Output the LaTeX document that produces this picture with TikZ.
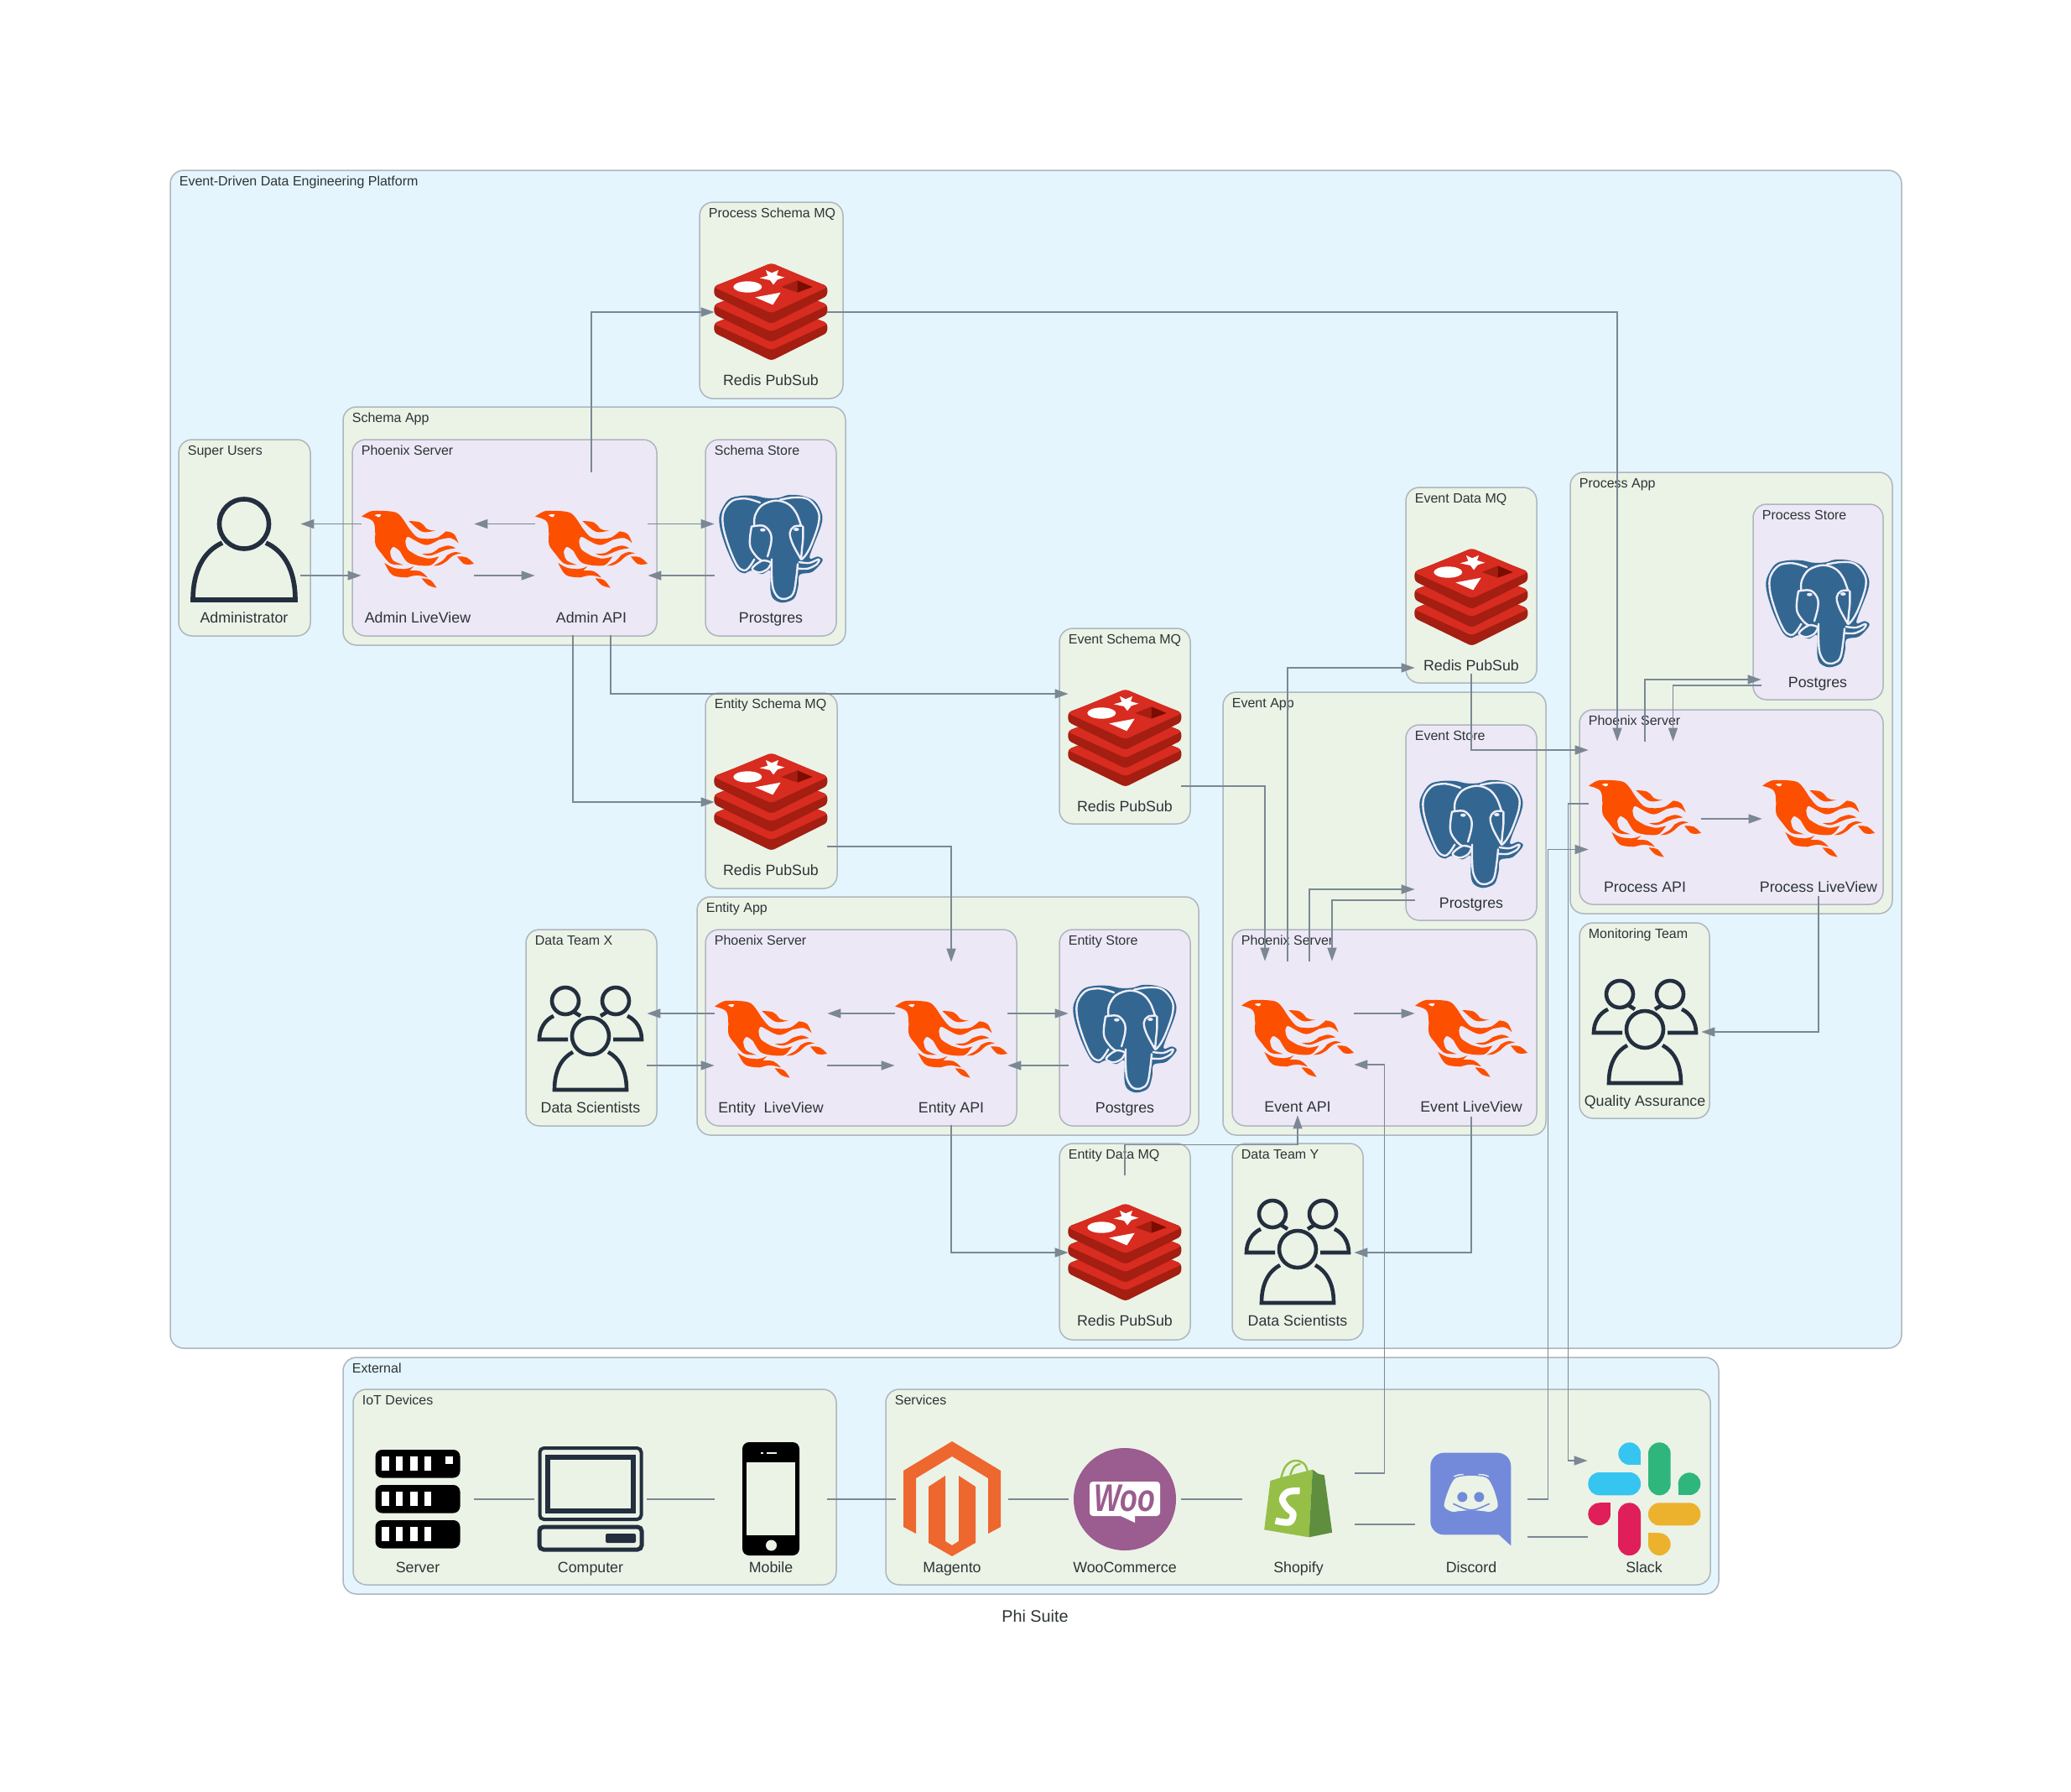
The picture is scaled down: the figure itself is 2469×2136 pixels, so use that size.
\documentclass[tikz,border=0pt]{standalone}
\usepackage{fontspec}
\setmainfont{Liberation Sans}
\usetikzlibrary{arrows.meta}
\definecolor{cblue}{HTML}{E4F5FD}
\definecolor{cgreen}{HTML}{EBF3E7}
\definecolor{cpurple}{HTML}{ECE8F6}
\definecolor{cborder}{HTML}{AEB6BE}
\definecolor{edgec}{HTML}{7B8894}
\definecolor{txt}{HTML}{2D3436}
\definecolor{flamec}{HTML}{FD4F00}
\definecolor{pgblue}{HTML}{336791}
\definecolor{pgwhite}{HTML}{EFEDF7}
\definecolor{redisA}{HTML}{D82C20}
\definecolor{redisB}{HTML}{A41E11}
\definecolor{redisC}{HTML}{7A0C00}
\definecolor{navy}{HTML}{232F3E}
\definecolor{magc}{HTML}{EE672F}
\definecolor{wooc}{HTML}{9B5C8F}
\definecolor{shopA}{HTML}{95BF47}
\definecolor{shopB}{HTML}{5E8E3E}
\definecolor{discc}{HTML}{738ADB}
\definecolor{slB}{HTML}{36C5F0}
\definecolor{slG}{HTML}{2EB67D}
\definecolor{slR}{HTML}{E01E5A}
\definecolor{slY}{HTML}{ECB22E}
\tikzset{
  clubox/.style={draw=cborder,line width=0.75pt,rounded corners=8pt,inner sep=0pt},
  clulab/.style={anchor=base west,inner sep=0pt,font=\fontsize{8}{9.6}\selectfont,text=txt},
  iconbox/.style={inner sep=0pt,minimum width=67pt,minimum height=97pt},
  nodelab/.style={anchor=base,inner sep=0pt,font=\fontsize{8.9}{10.6}\selectfont,text=txt},
  conn/.style={draw=edgec,line width=0.7pt},
  arr/.style={conn,-{Triangle[length=8pt,width=5.5pt,fill=edgec]}},
  iflame/.pic={\begin{scope}[scale=1/3,shift={(-219,-165)}]
    \fill[flamec] (18,47) .. controls (50,25) .. (100,27) .. controls (150,30) .. (185,85) .. controls (215,125) .. (255,127) .. controls (290,125) .. (320,100) .. controls (350,105) .. (365,142) .. controls (340,120) .. (295,130) .. controls (250,155) .. (205,130) .. controls (180,115) .. (175,135) .. controls (178,165) .. (220,188) .. controls (260,200) .. (295,190) .. controls (270,225) .. (225,222) .. controls (180,215) .. (155,170) .. controls (130,150) .. (120,172) .. controls (125,205) .. (167,220) .. controls (120,220) .. (90,180) .. controls (65,150) .. (67,110) .. controls (65,60) .. (18,47) -- cycle;
    \fill[flamec] (187,63) .. controls (230,65) .. (250,90) .. controls (265,97) .. (283,97) .. controls (235,108) .. (187,63) -- cycle;
    \fill[flamec] (233,180) .. controls (270,180) .. (295,160) .. controls (330,148) .. (355,160) .. controls (320,165) .. (290,178) .. controls (260,190) .. (233,180) -- cycle;
    \fill[flamec] (275,223) .. controls (310,205) .. (325,185) .. controls (350,172) .. (375,178) .. controls (345,185) .. (325,205) .. controls (300,222) .. (275,223) -- cycle;
    \fill[flamec] (360,190) .. controls (395,190) .. (420,216) .. controls (385,222) .. (360,190) -- cycle;
    \fill[flamec] (100,213) .. controls (130,232) .. (170,235) .. controls (190,232) .. (205,225) .. controls (195,235) .. (190,240) .. controls (230,240) .. (255,265) .. controls (215,255) .. (180,265) .. controls (125,262) .. (100,213) -- cycle;
    \fill[flamec] (233,268) .. controls (265,270) .. (287,302) .. controls (255,295) .. (233,268) -- cycle;
    \fill[white] (65,42) .. controls (78,38) .. (88,40) .. controls (82,52) .. (65,42) -- cycle;
  \end{scope}},
  ipg/.pic={\begin{scope}[scale=1/3,shift={(-207,-210)}]
    \fill[pgblue] plot[smooth cycle,tension=0.55] coordinates {(100,18) (55,32) (24,85) (26,135) (50,210) (85,280) (115,295) (135,285) (175,298) (205,285) (205,350) (215,385) (248,400) (290,385) (305,340) (310,300) (355,290) (392,250) (375,235) (345,238) (385,130) (390,85) (365,38) (320,18) (270,15) (235,25) (190,26) (150,18)};
    \begin{scope}[draw=pgwhite,line width=1.2pt,line join=round,line cap=round]
    \draw plot[smooth,tension=0.6] coordinates {(168,42) (130,30) (100,28) (65,38) (38,75) (36,125) (55,195) (85,265) (110,285) (128,275) (148,245)};
    \draw plot[smooth,tension=0.6] coordinates {(148,125) (150,90) (175,52) (225,35) (270,48) (298,80) (315,125)};
    \draw plot[smooth,tension=0.6] coordinates {(240,32) (290,24) (340,30) (375,70) (378,115) (355,185) (335,225) (318,245)};
    \draw plot[smooth,tension=0.6] coordinates {(138,128) (180,125) (205,150) (208,185) (195,235)};
    \draw plot[smooth,tension=0.6] coordinates {(138,128) (132,170) (135,205) (158,238) (172,248)};
    \draw plot[smooth,tension=0.6] coordinates {(318,125) (290,128) (275,150) (285,190) (315,245)};
    \draw plot[smooth,tension=0.6] coordinates {(322,128) (322,170) (318,210) (315,245)};
    \draw plot[smooth,tension=0.6] coordinates {(210,245) (210,300) (215,350) (235,382) (265,385) (288,365) (298,310) (303,262)};
    \draw plot[smooth,tension=0.6] coordinates {(205,255) (175,250) (140,278) (165,292) (195,280) (208,258)};
    \draw plot[smooth,tension=0.6] coordinates {(308,255) (345,258) (378,245) (372,262) (340,278) (305,278)};
    \end{scope}
    \fill[pgwhite] (178,140) ellipse [x radius=10,y radius=6];
    \fill[pgwhite] (298,138) ellipse [x radius=10,y radius=6];
  \end{scope}},
  iredis/.pic={\begin{scope}[scale=1/3,shift={(-223,-198)}]
    \foreach \o in {132,66,0}{
      \fill[redisB,rounded corners=2pt] (225,{28+\o}) -- (425,{105+\o}) -- (425,{140+\o}) -- (225,{240+\o}) -- (20,{140+\o}) -- (20,{105+\o}) -- cycle;
      \fill[redisA,rounded corners=2pt] (225,{22+\o}) -- (428,{108+\o}) -- (225,{202+\o}) -- (17,{108+\o}) -- cycle;
    }
    \fill[white] (140,108) ellipse [x radius=51,y radius=20];
    \fill[white] (205,48) -- (226,58) -- (250,48) -- (244,66) -- (272,74) -- (246,82) -- (232,100) -- (220,84) -- (183,76) -- (212,68) -- cycle;
    \fill[white] (167,145) -- (258,128) -- (230,172) -- cycle;
    \fill[redisB] (260,108) -- (318,85) -- (318,128) -- cycle;
    \fill[redisC] (318,85) -- (372,108) -- (318,128) -- cycle;
  \end{scope}},
  iperson/.pic={
    \draw[navy,line width=2.8pt] (0,-30.5) circle [radius=29.5];
    \draw[navy,line width=2.8pt] (-26,-8) .. controls (-48,2) and (-61,25) .. (-61,60) -- (61,60) .. controls (61,25) and (48,2) .. (26,-8);
  },
  igroup/.pic={
    \draw[navy,line width=2.3pt] (0,-4) circle [radius=22];
    \draw[navy,line width=2.3pt] (-21,15) .. controls (-34,22) and (-43,36) .. (-43,60) -- (43,60) .. controls (43,36) and (34,22) .. (21,15);
    \draw[navy,line width=2.3pt] (-30,-46) circle [radius=16];
    \draw[navy,line width=2.3pt] (30,-46) circle [radius=16];
    \draw[navy,line width=2.3pt] (-44,-28) .. controls (-55,-23) and (-61,-12) .. (-61,0) -- (-27,0);
    \draw[navy,line width=2.3pt] (44,-28) .. controls (55,-23) and (61,-12) .. (61,0) -- (27,0);
    \draw[navy,line width=2.3pt] (-20,-33) -- (-12,-28);
    \draw[navy,line width=2.3pt] (20,-33) -- (12,-28);
  },
  iserver/.pic={
    \foreach \t in {-59,-17,25}{
      \fill[black,rounded corners=4pt] (-50.5,\t) rectangle (50.5,{\t+33.5});
      \foreach \b in {-43,-26.5,-9,7.5}{\fill[white] (\b,{\t+8}) rectangle ({\b+8.5},{\t+25});}
    }
    \fill[white] (33,-51) rectangle (42,-42);
  },
  icomputer/.pic={
    \draw[navy,line width=2pt,rounded corners=2.5pt] (-60.5,-61) rectangle (60.5,24);
    \draw[navy,line width=3pt] (-51,-50) rectangle (51,14);
    \draw[navy,line width=2.5pt,rounded corners=2.5pt] (-61,33) rectangle (61,60);
    \fill[navy,rounded corners=1pt] (18,41) rectangle (54,52);
  },
  imobile/.pic={
    \fill[black,rounded corners=4pt] (-34,-68) rectangle (34,67);
    \fill[cgreen] (-29,-44) rectangle (29,43);
    \fill[cgreen] (0.5,55) circle [radius=6.5];
    \fill[cgreen] (-12,-56) rectangle (-9.5,-54);
    \fill[cgreen] (-5,-56) rectangle (7,-54);
  },
  imagento/.pic={
    \fill[magc] (0,-69) -- (58,-34) -- (58,33) -- (43,41) -- (43,-25) -- (0,-51) -- (-43,-25) -- (-43,41) -- (-58,33) -- (-58,-34) -- cycle;
    \fill[magc] (-28,-15) -- (-8,-28) -- (-8,50) -- (0,55) -- (8,50) -- (8,-28) -- (28,-15) -- (28,52) -- (0,68) -- (-28,52) -- cycle;
  },
  iwoo/.pic={
    \fill[wooc] (0,0) circle [radius=61];
    \fill[white,rounded corners=2pt] (-42,-21) rectangle (42,20);
    \fill[white] (-7,19) -- (12,28) -- (12,19) -- cycle;
  },
  ishopify/.pic={\begin{scope}[scale=1/3,shift={(-157.5,-216)}]
    \fill[shopA] (35,325) -- (57,150) -- (100,137) -- (208,110) -- (195,352) -- cycle;
    \fill[shopB] (208,110) -- (228,125) -- (250,130) -- (278,335) -- (195,352) -- cycle;
    \draw[shopA,line width=1.2pt] plot[smooth,tension=0.7] coordinates {(95,142) (112,98) (145,78) (178,90) (190,118)};
    \draw[shopA,line width=1.2pt] plot[smooth,tension=0.7] coordinates {(128,130) (142,100) (165,90)};
    \draw[white,line width=4pt] plot[smooth,tension=0.6] coordinates {(162,186) (120,190) (100,215) (115,245) (138,268) (125,298) (75,293)};
  \end{scope}},
  idiscord/.pic={\begin{scope}[scale=1/3,shift={(-780,-216)}]
    \fill[discc,rounded corners=8pt] (634,50) rectangle (922,343);
    \fill[discc] (848,315) -- (922,382) -- (922,300) -- cycle;
    \fill[cgreen] plot[smooth cycle,tension=0.5] coordinates {(725,140) (780,132) (835,140) (860,180) (875,240) (850,260) (820,258) (780,255) (740,258) (710,260) (683,240) (700,180)};
    \fill[discc] (748,208) circle [radius=18];
    \fill[discc] (808,208) circle [radius=18];
    \draw[discc,line width=0.8pt] (715,232) .. controls (780,262) .. (845,232);
    \draw[cgreen,line width=0.7pt] (718,135) .. controls (735,128) .. (752,128);
    \draw[cgreen,line width=0.7pt] (842,135) .. controls (825,128) .. (806,128);
  \end{scope}},
  islack/.pic={\begin{scope}[scale=1/3,shift={(-225,-231)}]
    \fill[slB] (173,68) circle [radius=40]; \fill[slB] (173,68) rectangle (213,108);
    \fill[slB,rounded corners=6.6pt] (25,135) rectangle (213,217);
    \fill[slG,rounded corners=6.6pt] (240,28) rectangle (320,217);
    \fill[slG] (387,176) circle [radius=40]; \fill[slG] (347,176) rectangle (387,216);
    \fill[slR] (65,284) circle [radius=40]; \fill[slR] (65,244) rectangle (105,284);
    \fill[slR,rounded corners=6.6pt] (132,244) rectangle (213,432);
    \fill[slY,rounded corners=6.6pt] (240,244) rectangle (427,325);
    \fill[slY] (280,392) circle [radius=40]; \fill[slY] (240,352) rectangle (280,392);
  \end{scope}},
}
\newcommand\clu[7]{%
  \node[clubox,fill=#6,minimum width={(#4-#2)*0.5pt},minimum height={(#5-#3)*0.5pt}] (#1) at ({(#2+#4)/2},{(#3+#5)/2}) {};
  \node[clulab] (#1-l) at ({#2+10.5},{#3+18}) {#7};}
\newcommand\ico[5]{%
  \node[iconbox] (#1) at (#2,{#3+5}) {};
  \pic at (#2,#3) {#4};
  \node[nodelab] (#1-l) at (#2,{#3+87}) {#5};}
\begin{document}
\begin{tikzpicture}[x=0.5pt,y=-0.5pt]
\useasboundingbox (0,0) rectangle (2469,2136);
\fill[white] (0,0) rectangle (2469,2136);
% clusters
\clu{platform}{203}{203}{2267}{1607}{cblue}{Event-Driven Data Engineering Platform}
\clu{external}{409}{1618}{2049}{1900}{cblue}{External}
\clu{iot}{421}{1656}{997}{1889}{cgreen}{IoT Devices}
\clu{services}{1056}{1656}{2039}{1889}{cgreen}{Services}
\clu{psmqc}{834}{241}{1005}{475}{cgreen}{Process Schema MQ}
\clu{schemaapp}{409}{485}{1008}{769}{cgreen}{Schema App}
\clu{superusers}{213}{524}{370}{758}{cgreen}{Super Users}
\clu{schemaphx}{420}{524}{783}{758}{cpurple}{Phoenix Server}
\clu{schemastore}{841}{524}{997}{758}{cpurple}{Schema Store}
\clu{esmqc}{1263}{749}{1419}{982}{cgreen}{Event Schema MQ}
\clu{entsmqc}{841}{826}{998}{1059}{cgreen}{Entity Schema MQ}
\clu{edmqc}{1676}{581}{1832}{814}{cgreen}{Event Data MQ}
\clu{eventapp}{1458}{825}{1843}{1353}{cgreen}{Event App}
\clu{eventstore}{1676}{864}{1832}{1097}{cpurple}{Event Store}
\clu{eventphx}{1469}{1108}{1832}{1342}{cpurple}{Phoenix Server}
\clu{processapp}{1872}{563}{2256}{1089}{cgreen}{Process App}
\clu{processstore}{2090}{601}{2245}{834}{cpurple}{Process Store}
\clu{processphx}{1883}{846}{2245}{1078}{cpurple}{Phoenix Server}
\clu{monitoring}{1883}{1100}{2038}{1333}{cgreen}{Monitoring Team}
\clu{entityapp}{831}{1069}{1429}{1353}{cgreen}{Entity App}
\clu{entityphx}{841}{1108}{1212}{1342}{cpurple}{Phoenix Server}
\clu{entitystore}{1263}{1108}{1419}{1342}{cpurple}{Entity Store}
\clu{teamx}{627}{1108}{783}{1342}{cgreen}{Data Team X}
\clu{entdmqc}{1263}{1363}{1419}{1597}{cgreen}{Entity Data MQ}
\clu{teamy}{1469}{1363}{1625}{1597}{cgreen}{Data Team Y}
% nodes
\ico{admin}{291}{655}{iperson}{Administrator}
\ico{adminlv}{498}{655}{iflame}{Admin LiveView}
\ico{adminapi}{705}{655}{iflame}{Admin API}
\ico{schemapg}{919}{655}{ipg}{Prostgres}
\ico{psmq}{919}{372}{iredis}{Redis PubSub}
\ico{esmq}{1341}{880}{iredis}{Redis PubSub}
\ico{entsmq}{919}{956}{iredis}{Redis PubSub}
\ico{edmq}{1754}{712}{iredis}{Redis PubSub}
\ico{entdmq}{1341}{1493}{iredis}{Redis PubSub}
\ico{dsx}{704}{1239}{igroup}{Data Scientists}
\ico{entlv}{919}{1239}{iflame}{Entity\ \ LiveView}
\ico{entapi}{1134}{1239}{iflame}{Entity API}
\ico{entpg}{1341}{1239}{ipg}{Postgres}
\ico{evapi}{1547}{1238}{iflame}{Event API}
\ico{evlv}{1754}{1238}{iflame}{Event LiveView}
\ico{evpg}{1754}{995}{ipg}{Prostgres}
\ico{dsy}{1547}{1493}{igroup}{Data Scientists}
\ico{papi}{1961}{976}{iflame}{Process API}
\ico{plv}{2168}{976}{iflame}{Process LiveView}
\ico{ppg}{2167}{732}{ipg}{Postgres}
\ico{qa}{1961}{1231}{igroup}{Quality Assurance}
\ico{server}{498}{1787}{iserver}{Server}
\ico{computer}{704}{1787}{icomputer}{Computer}
\ico{mobile}{919}{1787}{imobile}{Mobile}
\ico{magento}{1135}{1787}{imagento}{Magento}
\ico{woo}{1341}{1787}{iwoo}{WooCommerce}
\ico{shopify}{1548}{1787}{ishopify}{Shopify}
\ico{discord}{1754}{1787}{idiscord}{Discord}
\ico{slack}{1960}{1787}{islack}{Slack}
\node[inner sep=0pt,text=wooc,yscale=1.35,transform shape,font=\fontsize{17}{18}\selectfont\bfseries\itshape] (wootext) at (1341,1786) {Woo};
\node[anchor=base,inner sep=0pt,text=txt,font=\fontsize{9.9}{11}\selectfont] (title) at (1234,1933) {Phi Suite};
% schema row
\draw[arr] ([shift={(0,-35.5)}]adminlv.west) -- ([shift={(0,-35.5)}]admin.east);
\draw[arr] ([shift={(0,26)}]admin.east) -- ([shift={(0,26)}]adminlv.west);
\draw[arr] ([shift={(0,-35.5)}]adminapi.west) -- ([shift={(0,-35.5)}]adminlv.east);
\draw[arr] ([shift={(0,26)}]adminlv.east) -- ([shift={(0,26)}]adminapi.west);
\draw[arr] ([shift={(0,-35.5)}]adminapi.east) -- ([shift={(0,-35.5)}]schemapg.west);
\draw[arr] ([shift={(0,26)}]schemapg.west) -- ([shift={(0,26)}]adminapi.east);
\draw[arr] (adminapi.north) |- ([shift={(0,-5)}]psmq.west);
\draw[arr] ([shift={(-22,0)}]adminapi.south) |- ([shift={(0,-5)}]entsmq.west);
\draw[arr] ([shift={(23,0)}]adminapi.south) |- ([shift={(0,-58)}]esmq.west);
% to apps
\draw[arr] ([shift={(0,-5)}]psmq.east) -| ([shift={(-33,0)}]papi.north);
\draw[arr] ([shift={(0,48)}]entsmq.east) -| (entapi.north);
\draw[arr] ([shift={(0,52)}]esmq.east) -| ([shift={(-39,0)}]evapi.north);
% event
\draw[arr] ([shift={(-12,0)}]evapi.north) |- ([shift={(0,79)}]edmq.west);
\draw[arr] ([shift={(14,0)}]evapi.north) |- ([shift={(0,60)}]evpg.west);
\draw[arr] ([shift={(0,73)}]evpg.west) -| ([shift={(41,0)}]evapi.north);
\draw[arr] ([shift={(0,-35)}]evapi.east) -- ([shift={(0,-35)}]evlv.west);
% process
\draw[arr] ([shift={(0,-11)}]edmq.south) |- ([shift={(0,-87)}]papi.west);
\draw[arr] (papi.north) |- ([shift={(0,73)}]ppg.west);
\draw[arr] ([shift={(0,80)}]ppg.west) -| ([shift={(33.5,0)}]papi.north);
\draw[arr] ([shift={(0,-5)}]papi.east) -- ([shift={(0,-5)}]plv.west);
\draw[arr] ([shift={(0,-10)}]plv.south) |- ([shift={(0,-6)}]qa.east);
\draw[arr] ([shift={(0,-23)}]papi.west) -- ([shift={(-24,-23)}]papi.west) |- ([shift={(0,-51)}]slack.west);
\draw[arr] ([shift={(0,-5)}]discord.east) -- ([shift={(24,-5)}]discord.east) |- ([shift={(0,31.5)}]papi.west);
\draw[arr] ([shift={(0,-36)}]shopify.east) -- ([shift={(35,-36)}]shopify.east) |- ([shift={(0,26)}]evapi.east);
\draw[arr] (entdmq.north) -- ([shift={(0,-36)}]entdmq.north) -| ([shift={(0,-11)}]evapi.south);
\draw[arr] ([shift={(0,-9)}]evlv.south) |- ([shift={(0,-5)}]dsy.east);
\draw[arr] (entapi.south) |- ([shift={(0,-5)}]entdmq.west);
% entity row
\draw[arr] ([shift={(0,-36)}]entlv.west) -- ([shift={(0,-36)}]dsx.east);
\draw[arr] ([shift={(0,26)}]dsx.east) -- ([shift={(0,26)}]entlv.west);
\draw[arr] ([shift={(0,-36)}]entapi.west) -- ([shift={(0,-36)}]entlv.east);
\draw[arr] ([shift={(0,26)}]entlv.east) -- ([shift={(0,26)}]entapi.west);
\draw[arr] ([shift={(0,-36)}]entapi.east) -- ([shift={(0,-36)}]entpg.west);
\draw[arr] ([shift={(0,26)}]entpg.west) -- ([shift={(0,26)}]entapi.east);
% bottom row
\draw[conn] ([shift={(0,-5)}]server.east) -- ([shift={(0,-5)}]computer.west);
\draw[conn] ([shift={(0,-5)}]computer.east) -- ([shift={(0,-5)}]mobile.west);
\draw[conn] ([shift={(0,-5)}]mobile.east) -- ([shift={(0,-5)}]magento.west);
\draw[conn] ([shift={(0,-5)}]magento.east) -- ([shift={(0,-5)}]woo.west);
\draw[conn] ([shift={(0,-5)}]woo.east) -- ([shift={(0,-5)}]shopify.west);
\draw[conn] ([shift={(0,25)}]shopify.east) -- ([shift={(0,25)}]discord.west);
\draw[conn] ([shift={(0,40)}]discord.east) -- ([shift={(0,40)}]slack.west);
\end{tikzpicture}
\end{document}
